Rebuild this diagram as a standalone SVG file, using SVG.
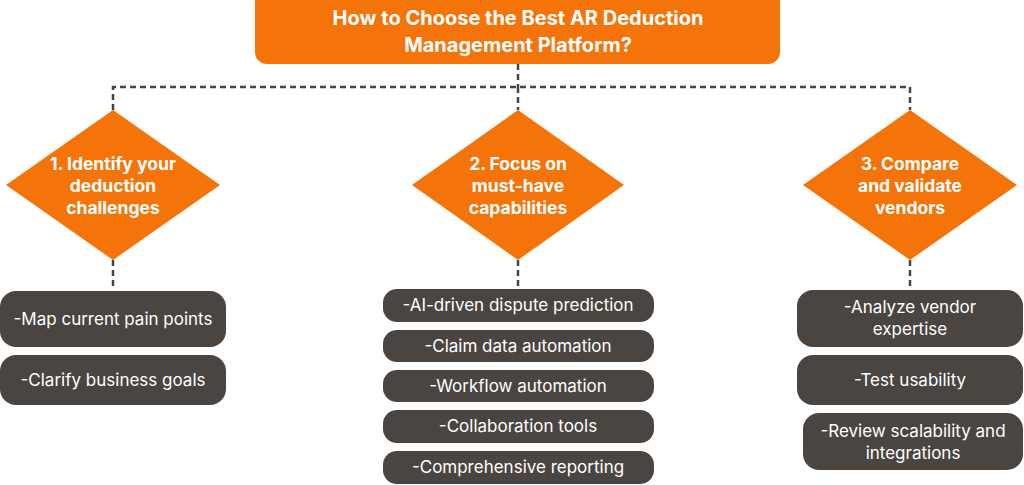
<svg xmlns="http://www.w3.org/2000/svg" width="1024" height="485" viewBox="0 0 1024 485">
<style>
.o{fill:#F5740A}
.d{fill:#4A4541}
.t{font-family:"Inter","Liberation Sans",sans-serif;fill:#fff;text-anchor:middle}
.h{font-weight:700;font-size:17.5px}
.tt{font-size:20px}
.b{font-size:17px}
.c{fill:none;stroke:#444;stroke-width:2.5;stroke-dasharray:6,4}
</style>
<rect width="1024" height="485" fill="#fff"/>
<g id="connectors">
<path class="c" d="M518 64V87M113 110V87H910V110M518 87V110M113 260V288M518 260V288M910 260V288"/>
</g>
<g id="title"><rect class="o" x="255" y="-10" width="525" height="74" rx="12"/>
<text class="t h tt" x="518" y="25">How to Choose the Best AR Deduction</text>
<text class="t h tt" x="518" y="52">Management Platform?</text></g>
<g id="d1"><polygon class="o" points="113,110 220,185 113,260 6,185"/>
<text class="t h" x="113" y="170">1. Identify your</text><text class="t h" x="113" y="192">deduction</text><text class="t h" x="113" y="214">challenges</text></g>
<g id="d2"><polygon class="o" points="518,110 624,185 518,260 412,185"/>
<text class="t h" x="518" y="170">2. Focus on</text><text class="t h" x="518" y="192">must-have</text><text class="t h" x="518" y="214">capabilities</text></g>
<g id="d3"><polygon class="o" points="910,110 1017,185 910,260 803,185"/>
<text class="t h" x="910" y="170">3. Compare</text><text class="t h" x="910" y="192">and validate</text><text class="t h" x="910" y="214">vendors</text></g>
<g id="l1"><rect class="d" x="0" y="291" width="226" height="56" rx="16"/><text class="t b" x="113" y="325">-Map current pain points</text></g>
<g id="l2"><rect class="d" x="0" y="355" width="226" height="50" rx="16"/><text class="t b" x="113" y="386">-Clarify business goals</text></g>
<g id="m1"><rect class="d" x="383" y="289" width="271" height="33" rx="14"/><text class="t b" x="518" y="311">-AI-driven dispute prediction</text></g>
<g id="m2"><rect class="d" x="383" y="330" width="271" height="32" rx="14"/><text class="t b" x="518" y="352">-Claim data automation</text></g>
<g id="m3"><rect class="d" x="383" y="370" width="271" height="32" rx="14"/><text class="t b" x="518" y="392">-Workflow automation</text></g>
<g id="m4"><rect class="d" x="383" y="410" width="271" height="33" rx="14"/><text class="t b" x="518" y="432">-Collaboration tools</text></g>
<g id="m5"><rect class="d" x="383" y="451" width="271" height="33" rx="14"/><text class="t b" x="518" y="473">-Comprehensive reporting</text></g>
<g id="r1"><rect class="d" x="797" y="290" width="226" height="57" rx="16"/><text class="t b" x="910" y="313">-Analyze vendor</text><text class="t b" x="910" y="335">expertise</text></g>
<g id="r2"><rect class="d" x="797" y="355" width="226" height="50" rx="16"/><text class="t b" x="910" y="386">-Test usability</text></g>
<g id="r3"><rect class="d" x="803" y="413" width="220" height="57" rx="16"/><text class="t b" x="913" y="437">-Review scalability and</text><text class="t b" x="913" y="459">integrations</text></g>
</svg>
